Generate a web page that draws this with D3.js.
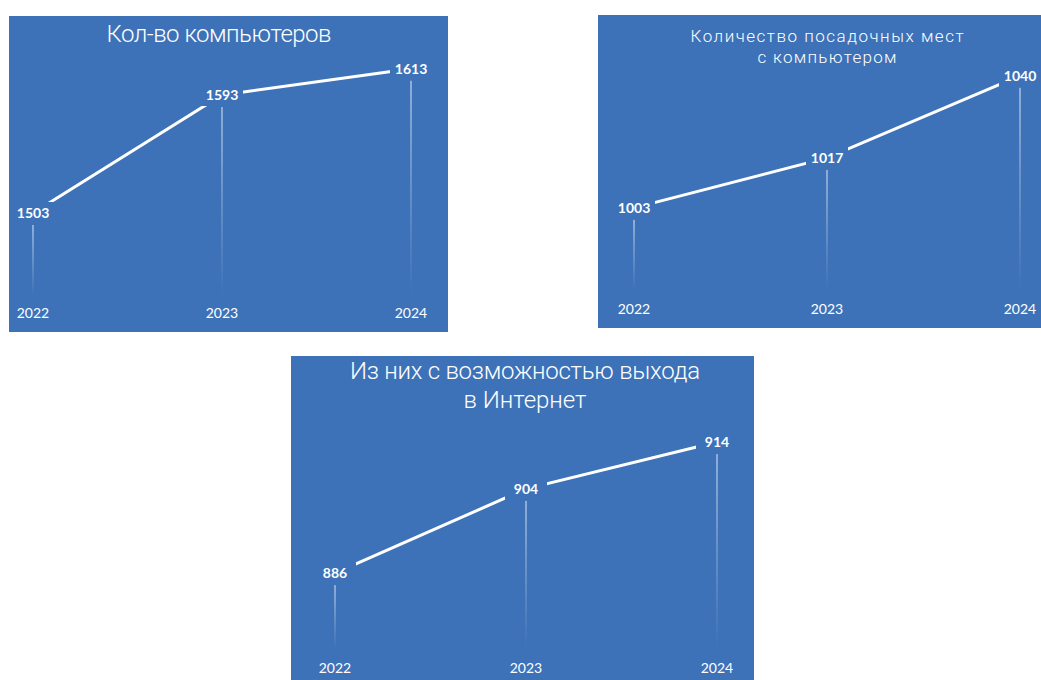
<!DOCTYPE html>
<html>
<head>
<meta charset="utf-8">
<script src="https://cdn.jsdelivr.net/npm/d3@7"></script>
<style>
  body { margin: 0; background: #fff; }
  svg { display: block; }
</style>
</head>
<body>
<svg id="chart" width="1041" height="680"></svg>
<script>
// данные
const years = ['2022', '2023', '2024']
const computers = [1503, 1593, 1613]
const seats = [1003, 1017, 1040]
const internet = [886, 904, 914]

const titleComputers = ['Кол-во компьютеров']
const titleSeats = ['Количество посадочных мест', 'с компьютером']
const titleInternet = ['Из них с возможностью выхода', 'в Интернет']

const BLUE = '#3d72b9'

// раскладка панелей
const panels = [
  { box: [9, 16, 439, 316], values: computers, title: titleComputers,
    domain: [1440, 1620], x: [33, 411], y: [295.6, 59.6],
    titleX: 219, titleY: [42], titleSize: 24, titleW: [225], yearY: 318 },
  { box: [598, 15, 443, 313], values: seats, title: titleSeats,
    domain: [980, 1045], x: [634, 1020], y: [290, 58],
    titleX: 827, titleY: [42, 63], titleSize: 17, titleW: [273, 139], yearY: 314 },
  { box: [291, 356, 463, 324], values: internet, title: titleInternet,
    domain: [870, 920], x: [335, 717], y: [648, 414],
    titleX: 525, titleY: [379, 408], titleSize: 24, titleW: [350, 123], yearY: 673 }
]

const svg = d3.select('#chart')

const defs = svg.append('defs')
const grad = defs.append('linearGradient')
  .attr('id', 'dropGrad')
  .attr('x1', 0).attr('y1', 0).attr('x2', 0).attr('y2', 1)
grad.append('stop').attr('offset', '0%').attr('stop-color', '#fff').attr('stop-opacity', 0.85)
grad.append('stop').attr('offset', '100%').attr('stop-color', '#fff').attr('stop-opacity', 0)

panels.forEach((p) => {
  const g = svg.append('g')
  const [bx, by, bw, bh] = p.box

  g.append('rect')
    .attr('x', bx).attr('y', by)
    .attr('width', bw).attr('height', bh)
    .attr('fill', BLUE)

  const x = d3.scalePoint().domain(years).range(p.x)
  const y = d3.scaleLinear().domain(p.domain).range(p.y)

  const pts = years.map((yr, i) => ({ year: yr, value: p.values[i] }))

  // заголовок
  p.title.forEach((t, i) => {
    g.append('text')
      .attr('x', p.titleX)
      .attr('y', p.titleY[i])
      .attr('text-anchor', 'middle')
      .attr('fill', '#fff')
      .attr('font-family', 'Roboto, "Liberation Sans", sans-serif')
      .attr('font-weight', 300)
      .attr('font-size', p.titleSize)
      .attr('textLength', p.titleW[i])
      .attr('lengthAdjust', 'spacing')
      .text(t)
  })

  // вертикальные линии
  g.selectAll('rect.drop')
    .data(pts)
    .enter()
    .append('rect')
    .attr('class', 'drop')
    .attr('x', (d) => x(d.year) - 0.5)
    .attr('y', (d) => y(d.value) + 12)
    .attr('width', 1)
    .attr('height', (d) => p.y[0] - y(d.value) - 12)
    .attr('fill', 'url(#dropGrad)')

  // линия
  const line = d3.line()
    .x((d) => x(d.year))
    .y((d) => y(d.value))
  g.append('path')
    .datum(pts)
    .attr('d', line)
    .attr('fill', 'none')
    .attr('stroke', '#fff')
    .attr('stroke-width', 3)

  // подписи значений
  const lbl = g.selectAll('g.lbl')
    .data(pts)
    .enter()
    .append('g')
    .attr('class', 'lbl')
    .attr('transform', (d) => 'translate(' + x(d.year) + ',' + y(d.value) + ')')
  lbl.append('rect')
    .attr('x', -21).attr('y', -11)
    .attr('width', 42).attr('height', 22)
    .attr('fill', BLUE)
  lbl.append('text')
    .attr('text-anchor', 'middle')
    .attr('dy', '0.35em')
    .attr('fill', '#fff')
    .attr('font-family', 'Lato, "Open Sans", sans-serif')
    .attr('font-weight', 'bold')
    .attr('font-size', 14)
    .text((d) => d.value)

  // годы
  g.selectAll('text.year')
    .data(years)
    .enter()
    .append('text')
    .attr('class', 'year')
    .attr('x', (d) => x(d))
    .attr('y', p.yearY)
    .attr('text-anchor', 'middle')
    .attr('fill', '#fff')
    .attr('font-family', 'Lato, "Open Sans", sans-serif')
    .attr('font-size', 14)
    .text((d) => d)
})
</script>
</body>
</html>
